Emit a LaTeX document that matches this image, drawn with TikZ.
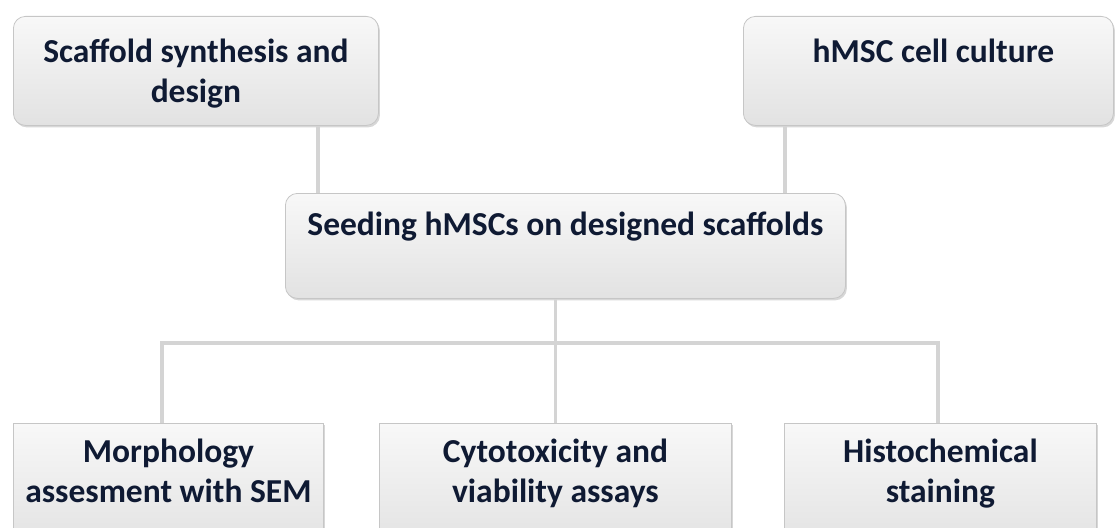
\documentclass[tikz,border=0pt]{standalone}
\usepackage{fontspec}
\setmainfont{Carlito}
\usetikzlibrary{calc,shadows}

\definecolor{inkblue}{HTML}{0F1A33}
\definecolor{cardtop}{HTML}{F8F8F8}
\definecolor{cardbot}{HTML}{E2E2E2}
\definecolor{cardline}{HTML}{C6C6C6}
\definecolor{linkgray}{HTML}{D4D4D4}

\tikzset{
    card/.style={draw=cardline, line width=0.8pt, top color=cardtop, bottom color=cardbot,
        anchor=north west, inner sep=0pt,
        drop shadow={shadow xshift=1.5pt, shadow yshift=-2pt, opacity=0.35, fill=black!45}},
    roundcard/.style={card, rounded corners=12pt},
    cardtext/.style={font=\fontsize{33.5}{39.5}\selectfont\bfseries, text=inkblue, align=center, anchor=north, inner sep=0pt},
    link/.style={draw=linkgray, line width=3.5pt}
}

\begin{document}
\begin{tikzpicture}[x=1pt,y=-1pt]
    \useasboundingbox (0,0) rectangle (1115,527);
    % inputs
    \node[roundcard, minimum width=365pt, minimum height=109pt,
        label={[cardtext, yshift=-23pt]north:{Scaffold synthesis and\\design}}] (scaf) at (13,16) {};
    \node[roundcard, minimum width=370pt, minimum height=109pt,
        label={[cardtext, yshift=-23pt, xshift=5pt]north:{hMSC cell culture}}] (cult) at (743,16) {};
    % seeding step
    \node[roundcard, minimum width=560pt, minimum height=105pt,
        label={[cardtext, yshift=-19pt]north:{Seeding hMSCs on designed scaffolds}}] (seed) at (285,193) {};
    % analyses
    \node[card, minimum width=310pt, minimum height=125pt,
        label={[cardtext, yshift=-16pt]north:{Morphology\\assesment with SEM}}] (morph) at (13,423) {};
    \node[card, minimum width=352pt, minimum height=125pt,
        label={[cardtext, yshift=-16pt]north:{Cytotoxicity and\\viability assays}}] (viab) at (379,423) {};
    \node[card, minimum width=312pt, minimum height=125pt,
        label={[cardtext, yshift=-16pt]north:{Histochemical\\staining}}] (hist) at (784,423) {};

    \coordinate (tapL) at (318,0);
    \coordinate (tapR) at (785,0);
    \coordinate (busL) at (162,343);
    \coordinate (busR) at (938,343);
    \draw[link] (scaf.south -| tapL) -- (seed.north -| tapL);
    \draw[link] (cult.south -| tapR) -- (seed.north -| tapR);
    \draw[link] (seed.south -| viab.north) -- (viab.north);
    \draw[link] (morph.north -| busL) -- (busL) -- (busR) -- (hist.north -| busR);
\end{tikzpicture}
\end{document}
